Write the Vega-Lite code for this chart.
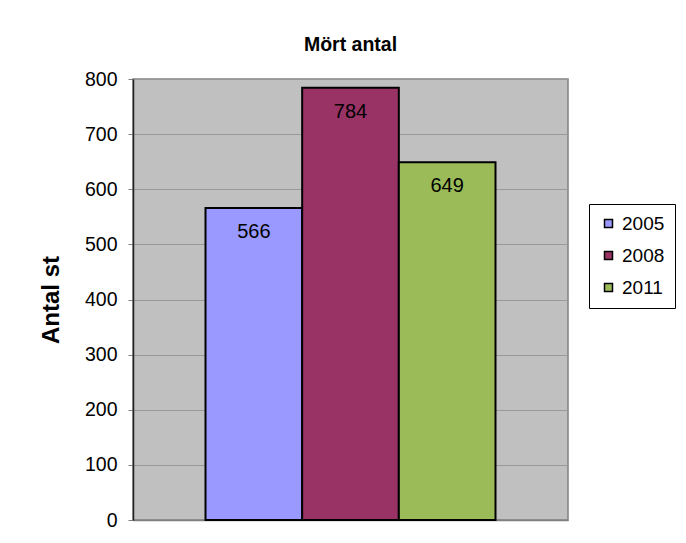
{
  "$schema": "https://vega.github.io/schema/vega-lite/v6.json",
  "autosize": {"type": "none"},
  "width": 435,
  "height": 441,
  "padding": {"left": 133, "top": 79, "right": 118, "bottom": 23},
  "background": "white",
  "config": {
    "view": {"fill": "#C0C0C0", "stroke": "#808080", "strokeWidth": 1.5},
    "font": "Liberation Sans"
  },
  "title": {
    "text": "Mört antal",
    "font": "Liberation Sans",
    "fontSize": 19.5,
    "fontWeight": "bold",
    "color": "black",
    "anchor": "middle",
    "offset": 14
  },
  "data": {
    "values": [
      {"year": "2005", "count": 566},
      {"year": "2008", "count": 784},
      {"year": "2011", "count": 649}
    ]
  },
  "encoding": {
    "x": {
      "field": "year",
      "type": "nominal",
      "scale": {"paddingInner": 0, "paddingOuter": 0.75},
      "axis": {"labels": false, "ticks": false, "title": null, "domain": true, "domainColor": "#808080", "domainWidth": 1.5}
    },
    "y": {
      "field": "count",
      "type": "quantitative",
      "scale": {"domain": [0, 800]},
      "axis": {
        "values": [0, 100, 200, 300, 400, 500, 600, 700, 800],
        "title": "Antal st",
        "titleFont": "Liberation Sans",
        "titleFontSize": 24,
        "titleFontWeight": "bold",
        "titleColor": "black",
        "titlePadding": 21,
        "labelFont": "Liberation Sans",
        "labelFontSize": 19.5,
        "labelColor": "black",
        "labelPadding": 11,
        "tickSize": 5,
        "tickColor": "#808080",
        "domainColor": "#222222",
        "domainWidth": 1.5,
        "grid": true,
        "gridColor": "#999999",
        "gridWidth": 1
      }
    }
  },
  "layer": [
    {
      "mark": {"type": "bar", "stroke": "black", "strokeWidth": 2},
      "encoding": {
        "fill": {
          "field": "year",
          "type": "nominal",
          "scale": {"domain": ["2005", "2008", "2011"], "range": ["#9999FF", "#993366", "#9BBB59"]},
          "legend": {
            "title": null,
            "orient": "none",
            "legendX": 456,
            "legendY": 125,
            "padding": 10,
            "strokeColor": "black",
            "fillColor": "white",
            "symbolType": "square",
            "symbolSize": 64,
            "symbolOffset": 0,
            "symbolStrokeColor": "black",
            "symbolStrokeWidth": 1.5,
            "labelFont": "Liberation Sans",
            "labelFontSize": 19,
            "labelColor": "black",
            "labelOffset": 4,
            "rowPadding": 12
          }
        }
      }
    },
    {
      "mark": {"type": "text", "baseline": "middle", "dy": 24, "fontSize": 20, "font": "Liberation Sans", "color": "black"},
      "encoding": {"text": {"field": "count", "type": "quantitative"}}
    }
  ]
}
